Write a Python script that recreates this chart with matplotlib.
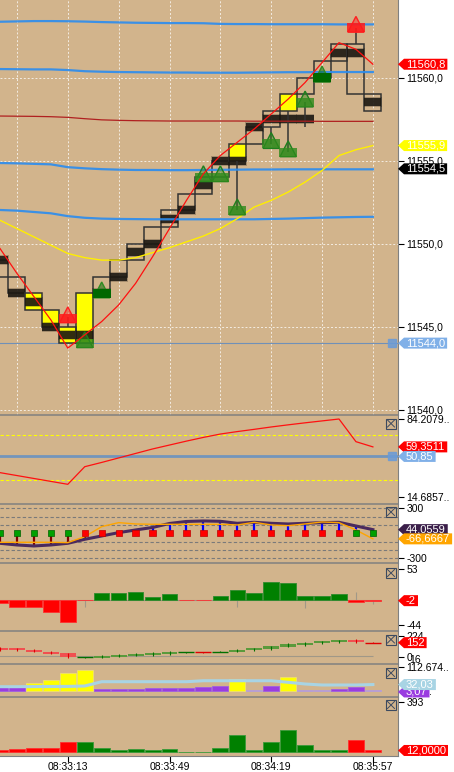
import matplotlib
matplotlib.use('Agg')
import matplotlib.pyplot as plt
from matplotlib.patches import Rectangle, Polygon
from matplotlib.path import Path
from matplotlib.colors import to_rgba

plt.rcParams['font.family'] = ['Liberation Sans', 'DejaVu Sans']

# ---------------- data ----------------
bar_idx = list(range(23))
time_ticks = [4, 10, 16, 22]
time_labels = ['08:33:13', '08:33:49', '08:34:19', '08:35:57']

# main panel: boxes, dark bands, highlighted boxes
box_lo = [11548, 11547, 11546, 11545, 11544, 11544, 11547, 11548, 11549, 11550, 11551, 11552,
          11553, 11554, 11555, 11556, 11557, 11558, 11559, 11560, 11561, 11559, 11558]
box_hi = [11549, 11548, 11547, 11546, 11545, 11547, 11548, 11549, 11550, 11551, 11552, 11553,
          11554, 11555, 11556, 11557, 11558, 11559, 11560, 11561, 11562, 11562, 11559]
band = [11549.0, 11547.0, 11546.5, 11545.0, 11544.5, 11544.5, 11547.0, 11548.0, 11549.5, 11550.0,
        11551.5, 11552.0, 11553.5, 11555.0, 11555.0, 11557.0, 11557.5, 11557.5, 11557.5, 11560.0,
        11561.5, 11561.5, 11558.5]
yellow_box = [0, 0, 1, 1, 1, 1, 0, 0, 0, 0, 0, 0, 0, 0, 1, 0, 0, 1, 0, 0, 0, 0, 0]

# signal markers
mk_bar = [4, 5, 6, 12, 13, 14, 16, 17, 18, 19, 21]
mk_price = [11545.5, 11544.0, 11547.0, 11554.0, 11554.0, 11552.0, 11556.0, 11555.5, 11558.5, 11560.0, 11563.0]
mk_kind = ['sell', 'buy', 'buy2', 'buy', 'buy', 'buy', 'buy', 'buy', 'buy', 'buy2', 'sell']
wick_bar = [4, 6, 14, 16, 17, 18, 21]
wick_lo = [11545.0, 11546.7, 11552.0, 11556.0, 11555.5, 11557.0, 11562.0]
wick_hi = [11545.6, 11547.0, 11555.0, 11557.0, 11558.0, 11558.5, 11563.0]

# lines on main panel
bb1 = [11563.36, 11563.38, 11563.40, 11563.40, 11563.39, 11563.37, 11563.34, 11563.32, 11563.30, 11563.29,
       11563.28, 11563.28, 11563.27, 11563.23, 11563.22, 11563.22, 11563.21, 11563.21, 11563.21, 11563.21,
       11563.20, 11563.20, 11563.20]
bb2 = [11560.51, 11560.50, 11560.49, 11560.49, 11560.45, 11560.38, 11560.35, 11560.33, 11560.32, 11560.31,
       11560.30, 11560.30, 11560.29, 11560.29, 11560.29, 11560.30, 11560.31, 11560.32, 11560.32, 11560.33,
       11560.33, 11560.33, 11560.33]
bb3 = [11554.85, 11554.83, 11554.80, 11554.77, 11554.60, 11554.53, 11554.48, 11554.45, 11554.43, 11554.43,
       11554.42, 11554.42, 11554.43, 11554.44, 11554.45, 11554.46, 11554.46, 11554.47, 11554.47, 11554.47,
       11554.47, 11554.47, 11554.47]
bb4 = [11552.02, 11551.98, 11551.90, 11551.82, 11551.65, 11551.55, 11551.50, 11551.48, 11551.47, 11551.46,
       11551.46, 11551.46, 11551.46, 11551.46, 11551.46, 11551.46, 11551.48, 11551.50, 11551.53, 11551.56,
       11551.58, 11551.60, 11551.61]
slow_ma = [11557.68, 11557.67, 11557.66, 11557.64, 11557.60, 11557.52, 11557.45, 11557.42, 11557.40, 11557.39,
           11557.38, 11557.38, 11557.38, 11557.38, 11557.38, 11557.37, 11557.37, 11557.37, 11557.37, 11557.36,
           11557.36, 11557.36, 11557.36]
mid_ma = [11551.4, 11550.9, 11550.4, 11549.9, 11549.4, 11549.15, 11549.0, 11549.0, 11549.15, 11549.45,
          11549.75, 11550.1, 11550.45, 11550.9, 11551.5, 11552.2, 11552.6, 11553.1, 11553.7, 11554.4,
          11555.3, 11555.65, 11555.9]
fast_ma = [11549.7, 11548.2, 11546.8, 11545.4, 11543.7, 11544.5, 11545.3, 11546.3, 11547.6, 11549.2,
           11550.9, 11552.6, 11554.2, 11555.3, 11556.1, 11556.9, 11557.8, 11558.7, 11559.7, 11560.9,
           11562.1, 11561.7, 11560.8]
ref_price = 11544.0
last_price = 11554.5

# panel 2 (RSI)
rsi = [36.4, 33.8, 31.2, 28.6, 26.0, 41.7, 45.5, 49.5, 53.5, 57.5, 61.0, 64.5, 67.8, 70.8, 73.0,
       75.0, 77.1, 79.0, 80.8, 82.5, 84.2, 64.0, 59.3511]
rsi_levels = [70, 30]
rsi_ref = 50.85

# panel 3 (CCI)
cci = [-120, -140, -152, -140, -120, -72, -32, 8, 40, 70, 118, 142, 148, 144, 120, 132, 120, 112,
       120, 128, 132, 88, 44.0559]
cci_sig = [-108, -108, -108, -108, -112, -40, 80, 128, 112, 108, 108, 108, 108, 108, 100, 132, 100,
           92, 112, 136, 128, 40, -66.6667]
cci_dot_up = [1, 1, 1, 1, 1, 0, 0, 0, 0, 0, 0, 0, 0, 0, 0, 0, 0, 0, 0, 0, 0, 1, 1]
cci_levels = [300, 200, 100, -100, -200, -300]

# panel 4 (delta histogram)
delta = [-6.6, -12.5, -12.5, -21.2, -38.6, 0, 10.8, 10.8, 12.5, 4.9, 9.0, 0, 0, 6.7, 16.5, 10.8,
         31.0, 28.2, 6.7, 6.7, 9.0, -3.8, -2.0]
delta_wick = [0, 0, 0, 0, 0, -12.7, 0, 0, 0, 0, 0, 0, 0, 0, -13, 0, 0, 0, -14, 0, 0, 13.3, -7]

# panel 5 (cumulative delta candles)
cd_open = [96, 93, 79, 58, 41, -1, -4, 7, 17, 24, 35, 51, 53, 57, 59, 73, 85, 109, 128, 145, 156, 179, 153]
cd_close = [76, 73, 59, 38, 0, 1, 16, 27, 37, 44, 55, 53, 51, 59, 79, 93, 115, 139, 148, 165, 176, 159, 152]
cd_high = [102, 99, 85, 64, 48, 6, 22, 33, 43, 50, 61, 58, 58, 64, 85, 99, 121, 145, 154, 171, 182, 185, 157]
cd_low = [70, 67, 53, 32, -10, -6, -10, 1, 11, 18, 29, 46, 46, 52, 53, 67, 79, 103, 122, 139, 150, 153, 147]
cd_base = 16

# panel 6 (volume split)
vol = [19.2, 19.2, 37.9, 53.4, 87.6, 100.2, 9.8, 9.8, 9.8, 14.5, 14.5, 14.5, 22.0, 25.3, 58.1, 5.2,
       25.3, 66.0, 5.2, 5.2, 9.8, 22.0, 5.2]
vol_kind = ['p', 'p', 'y', 'y', 'y', 'y', 'p', 'p', 'p', 'p', 'p', 'p', 'p', 'p', 'y', 'l',
            'p', 'y', 'l', 'l', 'p', 'p', 'l']
vol_avg = [22, 22, 22.5, 23, 23.4, 25.3, 45.4, 45.4, 45.4, 45.4, 45.4, 45.4, 50, 50, 50, 50, 50,
           42.6, 34.7, 30, 30, 30, 32.03]

# panel 7 (trade size)
size = [15, 20, 28, 28, 80, 80, 28, 15, 20, 15, 20, 0, 0, 28, 131, 15, 80, 170, 53, 15, 15, 92, 12]
size_side = [-1, -1, -1, -1, -1, 1, 1, 1, 1, 1, 1, 1, 1, 1, 1, 1, 1, 1, 1, 1, 1, -1, -1]

# ---------------- figure ----------------
W, H = 454, 772
PLOT_R = 398
BAR_PX = 16.95
TAN = '#d2b48c'
FS = 7.5

fig = plt.figure(figsize=(W / 100, H / 100), dpi=100)
fig.patch.set_facecolor('white')


def panel(top, bottom, ylo, yhi):
    ax = fig.add_axes([0, 1 - bottom / H, PLOT_R / W, (bottom - top) / H])
    ax.set_facecolor(TAN)
    ax.set_xlim(0, PLOT_R / BAR_PX)
    ax.set_ylim(ylo, yhi)
    for s in ['top', 'bottom', 'left']:
        ax.spines[s].set_visible(False)
    ax.spines['right'].set_color('#808080')
    ax.yaxis.tick_right()
    ax.tick_params(axis='y', direction='out', length=4, width=0.8, pad=2, labelsize=FS, colors='black')
    ax.set_xticks([])
    return ax


# ---- main price panel ----
ax1 = panel(0, 415, 11539.67, 11564.67)
ax1.set_yticks([11540, 11545, 11550, 11555, 11560])
ax1.set_yticklabels(['11540,0', '11545,0', '11550,0', '11555,0', '11560,0'])
for v in [11540, 11545, 11550, 11555, 11560]:
    ax1.axhline(v, color='white', lw=0.7, ls=(0, (2, 2)), alpha=0.75, zorder=1)
for i in range(1, 23, 3):
    ax1.axvline(i, color='white', lw=0.7, ls=(0, (2, 2)), alpha=0.75, zorder=1)
ax1.axhline(ref_price, color='#7090b8', lw=0.8, zorder=2)
ax1.plot([PLOT_R / BAR_PX - 0.35], [ref_price], marker='s', ms=5.5, color='#6a9bd8', alpha=0.85,
         clip_on=False, zorder=8)

for i in bar_idx:
    lo, hi = box_lo[i], box_hi[i]
    if yellow_box[i]:
        ax1.add_patch(Rectangle((i - 0.5, lo), 1, hi - lo, fc='#ffff00', ec='none', zorder=3))
    ax1.add_patch(Rectangle((i - 0.5, lo), 1, hi - lo, fill=False, ec='#333333', lw=1.1, zorder=4))
    b = band[i]
    ax1.add_patch(Rectangle((i - 0.55, b - 0.3), 1.1, 0.6, fc='#1c1812', alpha=0.25, ec='none', zorder=4))
    ax1.add_patch(Rectangle((i - 0.5, b - 0.24), 1, 0.48, fc='#1c1812', alpha=0.88, ec='none', zorder=4))

for i, lo, hi in zip(wick_bar, wick_lo, wick_hi):
    ax1.vlines(i, lo, hi, color='#333333', lw=1.1, zorder=4)

for bb in (bb1, bb2, bb3, bb4):
    ax1.plot(bar_idx, bb, color='#2a8cf0', lw=1.6, alpha=0.9, zorder=5)
ax1.plot(bar_idx, slow_ma, color='#b02020', lw=0.9, zorder=5)
ax1.plot(bar_idx, mid_ma, color='#ffee00', lw=1.0, zorder=5)

for i, p, kind in zip(mk_bar, mk_price, mk_kind):
    if kind == 'sell':
        fc, ec, a = '#ff1a1a', '#ff2020', 0.85
    elif kind == 'buy2':
        fc, ec, a = '#006800', '#2e8b22', 1.0
    else:
        fc, ec, a = '#2f8a1c', '#1e7e1e', 0.8
    ax1.add_patch(Polygon([(i - 0.48, p - 0.27), (i + 0.48, p - 0.27), (i, p + 0.68)], closed=True,
                          fc=to_rgba(fc, 0.45 if kind != 'buy2' else 0.5), ec=ec, lw=1, zorder=6))
    ax1.add_patch(Rectangle((i - 0.52, p - 0.27), 1.04, 0.54, fc=to_rgba(fc, a), ec='none', zorder=6))

ax1.plot(bar_idx, fast_ma, color='#ff1010', lw=0.9, zorder=7)

# ---- RSI ----
ax2 = panel(415, 504, 8.45, 87.77)
ax2.set_yticks([84.2079, 14.6857])
ax2.set_yticklabels(['84.2079..', '14.6857..'])
for v in rsi_levels:
    ax2.axhline(v, color='#ffff00', lw=0.8, ls=(0, (3, 2)))
ax2.axhline(rsi_ref, color='#5b8ec8', lw=2, alpha=0.8)
ax2.plot([PLOT_R / BAR_PX - 0.35], [rsi_ref], marker='s', ms=5.5, color='#6a9bd8', alpha=0.85,
         clip_on=False, zorder=8)
ax2.plot(bar_idx, rsi, color='#ff1010', lw=0.9)

# ---- CCI ----
ax3 = panel(504, 563, -356.4, 351.6)
ax3.set_yticks([300, -300])
ax3.set_yticklabels(['300', '-300'])
for v in cci_levels:
    ax3.axhline(v, color='#7a7a7a', lw=0.8, ls=(0, (3, 2)))
ax3.vlines(bar_idx, 0, cci, colors=['#0000ff' if c > 0 else '#800000' for c in cci], lw=1.6, zorder=3)
ax3.plot(bar_idx, cci, color='#4a2a5e', lw=2.2, zorder=4)
ax3.plot(bar_idx, cci_sig, color='#ffa500', lw=1.0, zorder=4)
ax3.scatter(bar_idx, [0] * 23, marker='s', s=20, zorder=5,
            c=['#00a000' if u else '#ff0000' for u in cci_dot_up],
            edgecolors=['#006000' if u else '#c00000' for u in cci_dot_up], linewidths=0.5)

# ---- delta histogram ----
ax4 = panel(563, 631, -54.8, 63.5)
ax4.set_yticks([53, -44])
ax4.set_yticklabels(['53', '-44'])
ax4.hlines(0, -0.5, 22.5, color='#a09080', lw=0.8, zorder=1)
ax4.vlines([i for i in bar_idx if delta_wick[i] != 0], 0, [w for w in delta_wick if w != 0],
           color='#a09888', lw=0.8, zorder=1)
ax4.bar(bar_idx, delta, width=0.92, color=['#008000' if d > 0 else '#ff0000' for d in delta],
        edgecolor=['#2e8b2e' if d > 0 else '#ff3030' for d in delta], lw=0.6, zorder=2)

# ---- cumulative delta ----
ax5 = panel(631, 664, -69.5, 272.8)
ax5.set_yticks([224, 0])
ax5.set_yticklabels(['224', '0'])
ax5.hlines(cd_base, -0.5, 22.0, color='#a09888', lw=0.8, zorder=1)
for i in bar_idx:
    o, c = cd_open[i], cd_close[i]
    up = c >= o
    dark = '#007000' if up else '#e00000'
    light = '#5a9a3c' if up else '#f05050'
    ax5.vlines(i, cd_low[i], cd_high[i], color=dark, lw=0.8, zorder=3)
    if abs(c - o) < 10:
        ax5.hlines((o + c) / 2, i - 0.47, i + 0.47, color=dark, lw=1.0, zorder=2)
    else:
        ax5.add_patch(Rectangle((i - 0.47, min(o, c)), 0.94, abs(c - o), fc=light, ec='none', zorder=2))

# ---- volume split ----
ax6 = panel(664, 697, -26.2, 128.3)
ax6.set_yticks([112.674, 3.07])
ax6.set_yticklabels(['112.674..', '3.07..'])
vcol = {'y': '#ffff00', 'p': '#9a3ce0', 'l': '#a88ad0'}
vedge = {'y': '#f0e070', 'p': '#a060e0', 'l': '#b8a0d8'}
ax6.bar(bar_idx, vol, width=0.94, color=[vcol[k] for k in vol_kind],
        edgecolor=[vedge[k] for k in vol_kind], lw=0.6)
ax6.plot(bar_idx, vol_avg, color='#a8d4e4', lw=2.2)

# ---- trade size ----
ax7 = panel(697, 756, -31.3, 430.7)
ax7.set_yticks([393])
ax7.set_yticklabels(['393'])
ax7.bar(bar_idx, size, width=0.94, color=['#008000' if s > 0 else '#ff0000' for s in size_side],
        edgecolor=['#3a9a3a' if s > 0 else '#ff3030' for s in size_side], lw=0.6)
ax7.spines['bottom'].set_visible(True)
ax7.spines['bottom'].set_color('#808080')
ax7.set_xticks(time_ticks)
ax7.set_xticklabels(time_labels)
ax7.tick_params(axis='x', direction='out', length=4, width=0.8, pad=0, labelsize=FS, colors='black')

# ---------------- overlay: separators, icons, price tags ----------------
ov = fig.add_axes([0, 0, 1, 1])
ov.set_xlim(0, W)
ov.set_ylim(0, H)
ov.axis('off')
ov.patch.set_alpha(0)

for yy in [415, 504, 563, 631, 664, 697]:
    ov.plot([0, PLOT_R], [H - yy, H - yy], color='#808080', lw=1.1)

for yc in [423.5, 512, 573, 639.5, 673, 705]:
    x0, y0 = 386, H - yc - 5
    ov.add_patch(Rectangle((x0, y0), 10, 10, fill=False, ec='#3c4a60', lw=0.8))
    ov.plot([x0 + 1.5, x0 + 8.5], [y0 + 1.5, y0 + 8.5], color='#3c4a60', lw=0.7)
    ov.plot([x0 + 1.5, x0 + 8.5], [y0 + 8.5, y0 + 1.5], color='#3c4a60', lw=0.7)


def tag_shape(x0, y0, width, height, mutation_size):
    x0 = x0 - 2
    x1 = x0 + width + 4
    y0 = y0 - 0.5
    y1 = y0 + height + 1
    ym = (y0 + y1) / 2
    return Path([(x0 - 6, ym), (x0, y1), (x1, y1), (x1, y0), (x0, y0), (x0 - 6, ym)], closed=True)


def tag(ax, value, text, fc, tc='white'):
    y = ax.transData.transform((0, value))[1]
    ov.text(406, y, text, fontsize=FS + 0.5, color=tc, va='center', ha='left', zorder=10,
            bbox=dict(boxstyle=tag_shape, fc=fc, ec='none'))


tag(ax1, fast_ma[-1], '11560,8', '#ff0000')
tag(ax1, mid_ma[-1], '11555,9', '#ffff00')
tag(ax1, last_price, '11554,5', '#000000')
tag(ax1, ref_price, '11544,0', '#80b0e8')
tag(ax2, rsi[-1], '59,3511', '#ff0000')
tag(ax2, rsi_ref, '50,85', '#80b0e8')
tag(ax3, cci[-1], '44,0559', '#3b1f4a')
tag(ax3, cci_sig[-1], '-66,6667', '#ffa500')
tag(ax4, delta[-1], '-2', '#ff0000')
tag(ax5, cd_close[-1], '152', '#ff0000')
tag(ax6, -2.5, '3,07', '#9a3ce0')
tag(ax6, vol_avg[-1], '32,03', '#a8d4e4')
tag(ax7, size[-1], '12,0000', '#ff0000')

y16 = ax5.transData.transform((0, 0))[1]
ov.text(409, y16 - 3, '16', fontsize=FS, color='black', va='center', ha='left')

fig.savefig('out.png', dpi=100)
